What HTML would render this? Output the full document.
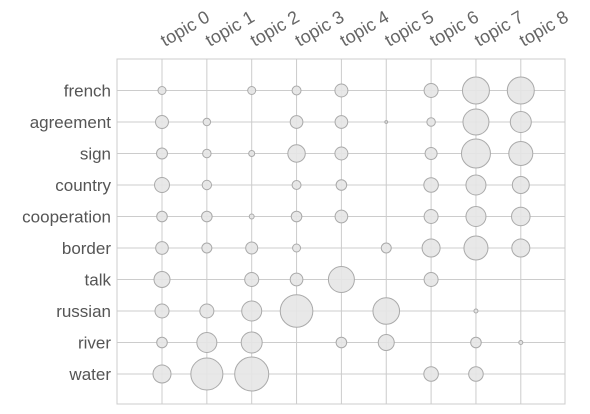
<!DOCTYPE html>
<html><head><meta charset="utf-8"><style>
html,body{margin:0;padding:0;background:#fff;}
svg{display:block;font-family:"Liberation Sans","DejaVu Sans",sans-serif;}
</style></head><body>
<svg id="chart" width="590" height="414" viewBox="0 0 590 414"></svg>
<script>
const topics = ["topic 0","topic 1","topic 2","topic 3","topic 4","topic 5","topic 6","topic 7","topic 8"];
const words = ["french","agreement","sign","country","cooperation","border","talk","russian","river","water"];
// bubble areas (r^2), 0 = none
const french      = [16,0,16,20,42,0,49,182,182];
const agreement   = [42,14,0,40,40,2,18,169,110];
const sign        = [30,18,9,76,42,0,36,210,144];
const country     = [56,22,0,20,28,0,53,100,72];
const cooperation = [28,28,6,28,40,0,49,100,86];
const border      = [40,25,36,16,0,25,81,144,81];
const talk        = [64,0,49,40,169,0,49,0,0];
const russian     = [49,49,100,266,0,177,0,4,0];
const river       = [28,100,110,0,28,64,0,28,4];
const water       = [81,256,289,0,0,0,53,53,0];
const values = [french,agreement,sign,country,cooperation,border,talk,russian,river,water];

const NS="http://www.w3.org/2000/svg";
const svg=document.getElementById('chart');
const L=117,R=565,T=59,B=404;
const x0=162,dx=44.85, y0=90.5,dy=31.5;
function xs(i){return x0+i*dx;}
function ys(j){return y0+j*dy;}
function mk(t,a){const e=document.createElementNS(NS,t);for(const k in a)e.setAttribute(k,a[k]);svg.appendChild(e);return e;}
const bg=mk('rect',{x:L,y:T,width:R-L,height:B-T,fill:'#fff',stroke:'#ccc','stroke-width':1});


topics.forEach((t,i)=>{
  const g=mk('line',{x1:xs(i),x2:xs(i),y1:T,y2:B,stroke:'#ccc','stroke-width':1});
  
  
  const tx=mk('text',{x:0,y:0,fill:'#666','font-size':18,transform:`translate(${xs(i)+3},${47}) rotate(-30)`});
  tx.textContent=t;
  
  
});
words.forEach((w,j)=>{
  const g=mk('line',{x1:L,x2:R,y1:ys(j),y2:ys(j),stroke:'#ccc','stroke-width':1});
  
  
  const tx=mk('text',{x:111,y:ys(j)+6,fill:'#555','font-size':17,'text-anchor':'end'});
  tx.textContent=w;
  
  
});
values.forEach((row,j)=>{
  row.forEach((v,i)=>{
    if(v<=0)return;
    const c=mk('circle',{cx:xs(i),cy:ys(j),r:Math.sqrt(v),fill:'#e6e6e6','fill-opacity':0.9,stroke:'#aaa','stroke-width':1});
    
    
  });
});
</script>
</body></html>
